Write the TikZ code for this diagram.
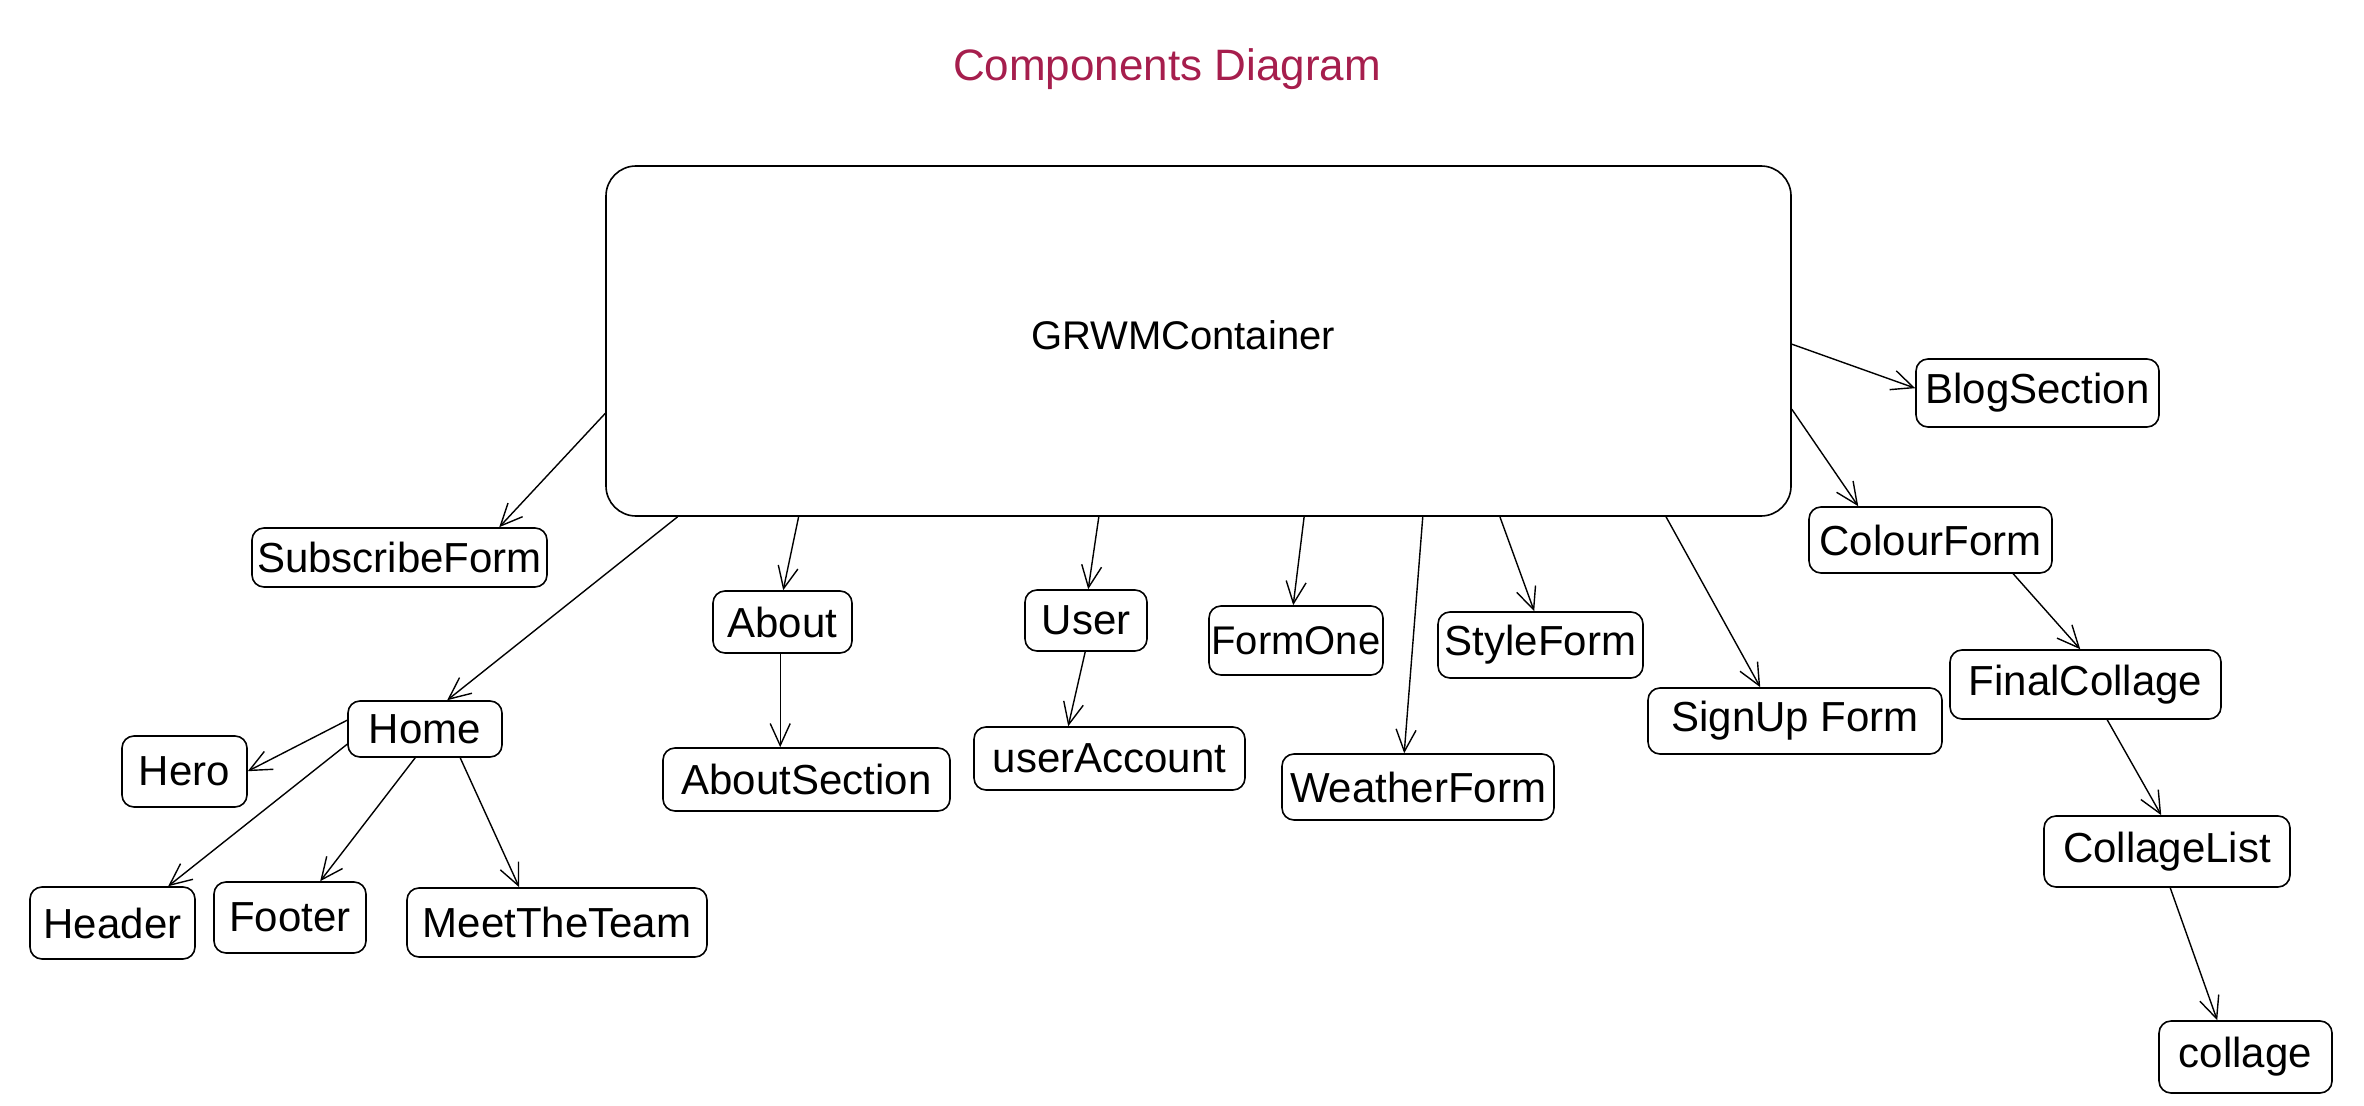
\documentclass[tikz,border=0pt]{standalone}
\usepackage{fontspec}
\setmainfont{Liberation Sans}
\usetikzlibrary{arrows.meta,calc}
\definecolor{titlecol}{HTML}{A61E4D}
\begin{document}
\begin{tikzpicture}[x=0.5pt,y=-0.5pt,
  bx/.style={draw, rounded corners=6pt, line width=0.8pt, font=\fontsize{21}{25}\selectfont, inner sep=0pt},
  arr/.style={-{Straight Barb[length=11pt,width=10pt]}, line width=0.7pt}]
\useasboundingbox (0,0) rectangle (2364,1106);
\node[text=titlecol, font=\fontsize{22}{26}\selectfont] (title) at (1167,69) {Components Diagram};
\node[draw, rounded corners=15pt, line width=0.8pt, minimum width=592.5pt, minimum height=175pt, inner sep=0pt] (c) at (1198.5,341) {};
\node[font=\fontsize{20}{24}\selectfont] (ctext) at (1183,335) {GRWMContainer};

\node[bx, minimum width=147.5pt, minimum height=29.5pt] (sub) at (399.5,557.5) {SubscribeForm};
\node[bx, minimum width=121.5pt, minimum height=34pt] (blog) at (2037.5,393) {BlogSection};
\node[bx, minimum width=121.5pt, minimum height=33pt] (colour) at (1930.5,540) {ColourForm};
\node[bx, minimum width=69.5pt, minimum height=31pt] (about) at (782.5,622) {About};
\node[bx, minimum width=61pt, minimum height=30.5pt] (user) at (1086,620.5) {User};
\node[bx, minimum width=87pt, minimum height=34.5pt, font=\fontsize{20}{24}\selectfont] (formone) at (1296,640.5) {FormOne};
\node[bx, minimum width=102.5pt, minimum height=33pt] (style) at (1540.5,645) {StyleForm};
\node[bx, minimum width=147pt, minimum height=33pt] (signup) at (1795,721) {SignUp Form};
\node[bx, minimum width=135.5pt, minimum height=34.5pt] (final) at (2085.5,684.5) {FinalCollage};
\node[bx, minimum width=77pt, minimum height=28pt] (home) at (425,729) {Home};
\node[bx, minimum width=62.5pt, minimum height=35.5pt] (hero) at (184.5,771.5) {Hero};
\node[bx, minimum width=143.5pt, minimum height=31.5pt] (aboutsec) at (806.5,779.5) {AboutSection};
\node[bx, minimum width=135.5pt, minimum height=31.5pt] (useracc) at (1109.5,758.5) {userAccount};
\node[bx, minimum width=136pt, minimum height=33pt] (weather) at (1418,787) {WeatherForm};
\node[bx, minimum width=123pt, minimum height=35.5pt] (clist) at (2167,851.5) {CollageList};
\node[bx, minimum width=82.5pt, minimum height=36pt] (header) at (112.5,923) {Header};
\node[bx, minimum width=76pt, minimum height=35.5pt] (footer) at (290,917.5) {Footer};
\node[bx, minimum width=150pt, minimum height=34.5pt] (meet) at (557,922.5) {MeetTheTeam};
\node[bx, minimum width=86.5pt, minimum height=36pt] (collage) at (2245.5,1057) {collage};

\draw[arr] ($(c.north west)!0.706!(c.south west)$) -- ($(sub.north west)+(248,0)$);
\draw[arr] ($(c.south west)!0.061!(c.south east)$) -- ($(home.north west)+(100,0)$);
\draw[arr] ($(c.south west)!0.163!(c.south east)$) -- ($(about.north west)+(71,0)$);
\draw[arr] ($(c.south west)!0.416!(c.south east)$) -- ($(user.north west)+(64,0)$);
\draw[arr] ($(c.south west)!0.589!(c.south east)$) -- ($(formone.north west)+(85,0)$);
\draw[arr] ($(c.south west)!0.689!(c.south east)$) -- ($(weather.north west)+(123,0)$);
\draw[arr] ($(c.south west)!0.754!(c.south east)$) -- ($(style.north west)+(97,0)$);
\draw[arr] ($(c.south west)!0.894!(c.south east)$) -- ($(signup.north west)+(113,0)$);
\draw[arr] ($(c.north east)!0.509!(c.south east)$) -- ($(blog.north west)+(0,30)$);
\draw[arr] ($(c.north east)!0.694!(c.south east)$) -- ($(colour.north west)+(50,0)$);

\draw[arr] ($(colour.south west)+(205,0)$) -- ($(final.north west)+(131,0)$);
\draw[arr] ($(final.south west)+(158,0)$) -- ($(clist.north west)+(118,0)$);
\draw[arr] ($(clist.south west)+(127,0)$) -- ($(collage.north west)+(59,0)$);
\draw[arr] ($(about.south west)+(68,0)$) -- ($(aboutsec.north west)+(118,0)$);
\draw[arr] ($(user.south west)+(61,0)$) -- ($(useracc.north west)+(95,0)$);
\draw[arr] ($(home.north west)+(0,20)$) -- ($(hero.north east)+(0,36)$);
\draw[arr] ($(home.north west)+(0,44)$) -- ($(header.north west)+(139,0)$);
\draw[arr] ($(home.south west)+(68,0)$) -- ($(footer.north west)+(107,0)$);
\draw[arr] ($(home.south west)+(113,0)$) -- ($(meet.north west)+(113,0)$);
\end{tikzpicture}
\end{document}
